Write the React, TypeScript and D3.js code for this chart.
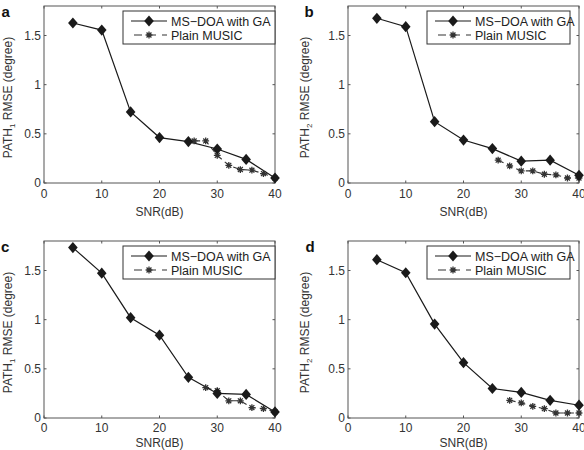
import React from "react";
import * as d3 from "d3";

const snrGA = [5, 10, 15, 20, 25, 30, 35, 40];
const gaA = [1.627, 1.555, 0.723, 0.462, 0.421, 0.346, 0.24, 0.051];
const gaB = [1.675, 1.59, 0.624, 0.437, 0.35, 0.222, 0.232, 0.078];
const gaC = [1.733, 1.473, 1.02, 0.842, 0.414, 0.25, 0.24, 0.062];
const gaD = [1.61, 1.477, 0.955, 0.563, 0.3, 0.26, 0.18, 0.13];

const snrMusicA = [26, 28, 30, 32, 34, 36, 38, 40];
const musicA = [0.428, 0.428, 0.28, 0.18, 0.137, 0.13, 0.096, 0.05];
const snrMusicB = [26, 28, 30, 32, 34, 36, 38, 40];
const musicB = [0.232, 0.174, 0.123, 0.123, 0.089, 0.082, 0.051, 0.051];
const snrMusicC = [28, 30, 32, 34, 36, 38, 40];
const musicC = [0.308, 0.277, 0.175, 0.175, 0.106, 0.096, 0.062];
const snrMusicD = [28, 30, 32, 34, 36, 38, 40];
const musicD = [0.18, 0.153, 0.119, 0.095, 0.051, 0.051, 0.051];

const xTicks = [0, 10, 20, 30, 40];
const yTicks = [0, 0.5, 1, 1.5];
const yTickLabels = ["0", "0.5", "1", "1.5"];
const panelLetters = ["a", "b", "c", "d"];
const pathIndex = ["1", "2", "1", "2"];
const legendLabels = ["MS\u2212DOA with GA", "Plain MUSIC"];

const panels = [
  { ga: gaA, mx: snrMusicA, my: musicA, x0: 44, x1: 275, y0: 6, y1: 183, letterX: 1.5, letterY: 17, yLabX: 12, tickOff: 15, labOff: 33, leg: { x0: 123, x1: 275, y0: 11, y1: 44 } },
  { ga: gaB, mx: snrMusicB, my: musicB, x0: 348, x1: 579, y0: 6, y1: 183, letterX: 304.5, letterY: 17, yLabX: 309, tickOff: 15, labOff: 33, leg: { x0: 427, x1: 570, y0: 11, y1: 44 } },
  { ga: gaC, mx: snrMusicC, my: musicC, x0: 44, x1: 275, y0: 241, y1: 418, letterX: 1, letterY: 252, yLabX: 12, tickOff: 14, labOff: 29, leg: { x0: 123, x1: 275, y0: 246, y1: 279 } },
  { ga: gaD, mx: snrMusicD, my: musicD, x0: 348, x1: 579, y0: 241, y1: 418, letterX: 305.5, letterY: 252, yLabX: 309, tickOff: 14, labOff: 29, leg: { x0: 427, x1: 570, y0: 246, y1: 279 } },
];

const FONT = "'Liberation Sans', Arial, Helvetica, sans-serif";
const AXIS = "#555";
const INK = "#1a1a1a";

function Diamond({ x, y }: { x: number; y: number }) {
  const w = 4.8, h = 5.6;
  return <path d={`M${x},${y - h}L${x + w},${y}L${x},${y + h}L${x - w},${y}Z`} fill={INK} />;
}

function Star({ x, y }: { x: number; y: number }) {
  const r = 3.4, d = r * 0.72;
  return (
    <path
      d={`M${x - r},${y}L${x + r},${y}M${x},${y - r}L${x},${y + r}M${x - d},${y - d}L${x + d},${y + d}M${x - d},${y + d}L${x + d},${y - d}`}
      stroke="#333"
      strokeWidth={1.3}
      fill="none"
    />
  );
}

function Panel({ p, i }: { p: any; i: number }) {
  const xs = d3.scaleLinear().domain([0, 40]).range([p.x0, p.x1]);
  const ys = d3.scaleLinear().domain([0, 1.8]).range([p.y1, p.y0]);
  const line = d3
    .line<[number, number]>()
    .x((d) => xs(d[0]))
    .y((d) => ys(d[1]));
  const gaPts: [number, number][] = snrGA.map((s, k) => [s, p.ga[k]]);
  const muPts: [number, number][] = p.mx.map((s: number, k: number) => [s, p.my[k]]);
  const tl = 2.5;
  const L = p.leg;
  const r1 = L.y0 + 10;
  const r2 = L.y0 + 24;
  const lx0 = L.x0 + 8, lx1 = L.x0 + 44, lm = (lx0 + lx1) / 2;
  const cy = (p.y0 + p.y1) / 2;
  const cx = (p.x0 + p.x1) / 2;
  return (
    <g>
      <rect x={p.x0} y={p.y0} width={p.x1 - p.x0} height={p.y1 - p.y0} fill="white" stroke={AXIS} strokeWidth={1} />
      {xTicks.map((t) => (
        <g key={"x" + t}>
          <line x1={xs(t)} x2={xs(t)} y1={p.y1} y2={p.y1 - tl} stroke={AXIS} />
          <line x1={xs(t)} x2={xs(t)} y1={p.y0} y2={p.y0 + tl} stroke={AXIS} />
          <text x={xs(t)} y={p.y1 + p.tickOff} textAnchor="middle" fontSize={12} fill="#333" fontFamily={FONT}>
            {t}
          </text>
        </g>
      ))}
      {yTicks.map((t, k) => (
        <g key={"y" + t}>
          <line x1={p.x0} x2={p.x0 + tl} y1={ys(t)} y2={ys(t)} stroke={AXIS} />
          <line x1={p.x1} x2={p.x1 - tl} y1={ys(t)} y2={ys(t)} stroke={AXIS} />
          <text x={p.x0 - 3} y={ys(t) + 4} textAnchor="end" fontSize={12} fill="#333" fontFamily={FONT}>
            {yTickLabels[k]}
          </text>
        </g>
      ))}
      <path d={line(muPts) || ""} fill="none" stroke="#333" strokeWidth={1.1} strokeDasharray="6,4" />
      <path d={line(gaPts) || ""} fill="none" stroke={INK} strokeWidth={1.2} />
      {muPts.map((d, k) => (
        <Star key={"m" + k} x={xs(d[0])} y={ys(d[1])} />
      ))}
      {gaPts.map((d, k) => (
        <Diamond key={"g" + k} x={xs(d[0])} y={ys(d[1])} />
      ))}
      <text x={cx} y={p.y1 + p.labOff} textAnchor="middle" fontSize={12} fill="#333" fontFamily={FONT}>
        SNR(dB)
      </text>
      <text transform={`translate(${p.yLabX},${cy + 3}) rotate(-90)`} textAnchor="middle" fontSize={12} fill="#333" fontFamily={FONT}>
        PATH
        <tspan fontSize={8} dy={3}>{pathIndex[i]}</tspan>
        <tspan dy={-3}> RMSE (degree)</tspan>
      </text>
      <text x={p.letterX} y={p.letterY} fontSize={15} fontWeight="bold" fill="#111" fontFamily={FONT}>
        {panelLetters[i]}
      </text>
      <rect x={L.x0} y={L.y0} width={L.x1 - L.x0} height={L.y1 - L.y0} fill="white" stroke="#333" strokeWidth={1} />
      <line x1={lx0} x2={lx1} y1={r1} y2={r1} stroke={INK} strokeWidth={1.2} />
      <Diamond x={lm} y={r1} />
      <line x1={lx0} x2={lx1} y1={r2} y2={r2} stroke="#333" strokeWidth={1.1} strokeDasharray="8,6" strokeDashoffset={-3} />
      <Star x={lm} y={r2} />
      <text x={lx1 + 4} y={r1 + 4.5} fontSize={12.5} fill="#222" fontFamily={FONT}>
        {legendLabels[0]}
      </text>
      <text x={lx1 + 4} y={r2 + 4.5} fontSize={12.5} fill="#222" fontFamily={FONT}>
        {legendLabels[1]}
      </text>
    </g>
  );
}

export default function App() {
  return (
    <svg width={584} height={450} style={{ position: "absolute", left: 0, top: 0, display: "block", background: "white" }}>
      <rect width={584} height={450} fill="white" />
      {panels.map((p, i) => (
        <Panel key={i} p={p} i={i} />
      ))}
    </svg>
  );
}
